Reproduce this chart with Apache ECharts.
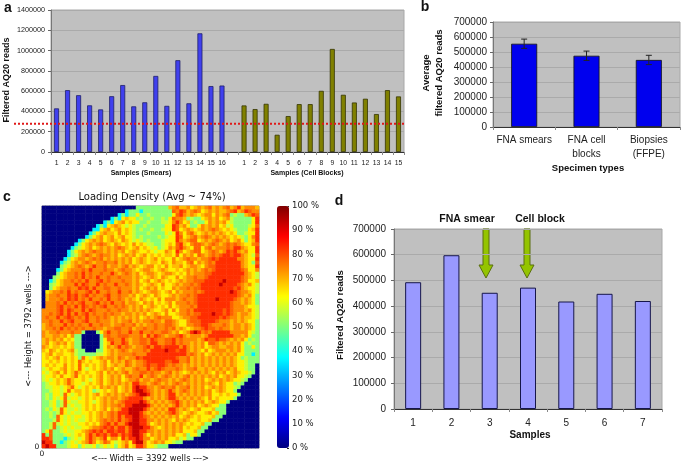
<!DOCTYPE html>
<html><head><meta charset="utf-8">
<style>html,body{margin:0;padding:0;background:#fff}#c{width:685px;height:465px}</style>
<script src="https://cdn.jsdelivr.net/npm/echarts@6/dist/echarts.min.js"></script>
</head><body><div id="c"></div>
<script>
const smearLabels=['1','2','3','4','5','6','7','8','9','10','11','12','13','14','15','16'];
const smearReads=[430000,610000,560000,460000,420000,550000,660000,450000,490000,750000,455000,905000,480000,1170000,650000,655000];
const blockLabels=['1','2','3','4','5','6','7','8','9','10','11','12','13','14','15'];
const blockReads=[459000,423000,475000,170000,354000,472000,472000,603000,1016000,564000,488000,525000,374000,610000,548000];
const threshold=279000;
const specimenTypes=['FNA smears','FNA cell\nblocks','Biopsies\n(FFPE)'];
const specimenMeans=[555000,475000,447000];
const specimenErrors=[31000,31000,31000];
const sampleLabels=['1','2','3','4','5','6','7'];
const sampleReads=[493000,598000,452000,472000,418000,448000,420000];
const densityKey={'.':0,c:36,g:51,l:57,y:64,a:69,o:74,r:78,R:83,D:93};
const densityRows=[
".......... .......... ......gggg gggggaoraa oyaoaoraoa oraoRaoooa",
".......... .......... ...cgggcgg ggggggroRr aoroyaoaoa aorRaoRroo",
".......... .......... .cgcggyggl ggggggyrRo aoayaooyoa orglggaoRr",
".......... .........c gcyayyglgg lgglgyrooa glggyaoaoy aolgggggyR",
".......... .......cgc yaoyayyggl gggllyoRoy aglggyoaoa oylgggggyR",
".......... .....cgcya oaylylgglg ggggyyRrao yggyoaoaoy alygggglyr",
".......... ....ccyaoy aoyaylglgg lgglyyRrya oayaoaoroa yaylgggyaR",
".......... ...cgyaoaa yoyaylgggl ggggylyRoy orayaoaoao ayaygglyyR",
".......... ..cgyaoyao yaoyylglgg gglglyyRry aoraoroaoa oayaylgyoR",
".......... cgyaoaoyao ayoaylylgl ggglyyyRoa orryaoaoro aoyaoygyaR",
".........c gyaoaoroay oayayoyayl lgglyayrRa yorroaoroa ororoayyor",
"........cg lyaoyaoaoa oroayaoyay lyglyoarRo ayrryoraoo oroRRoayyR",
".......cgy aoaorooaoa oaoyaoayya ylyyoayRoy aorryaoroa oRrRoaoyyR",
".......cgl aoroaorooa oyaoaoyaoy ayayaayryo aoyroaoror RRrRRoaylr",
"......cgya ooaororaoa oaoaoyaoay aoyayyoyao rooaoorRrR RRRRooayyR",
".....cglao aoroaooroo raoaoyaoay aayoayoaay oryoaoroRR RRRRRoaygr",
".....glyao roaoRoorao oaoraoayao oyayoyaaoy aooayorrRR RRRRRoayyR",
"....cgyaoo oroRoooroo aorooayaoo ayaoayyaya oaoaororRR RRRRRroyyo",
"....gyaoor oRoroorooR oaoroaoyao oayaooayay oaooorrRRR RRRRRRoayl",
"...glyaoor oRoroRooro oroooaoaya oayoayyoya ooroorRRRR RRRRRroayl",
"..cgyaooro roRoorRoro oorooaoyao yaoayayaoa oorrrRRRRR DRRRRroyya",
"..glyaoooR oRrooRoroo Rooroaoaya oayoyyaoao ororRRRRRD RRRRroaoyl",
"..gyaooroo RrRoRoorro oroooaoyao aoyayyoaoo rorrRRRRRR RRRrRoayyl",
".yaooroRor oorRoRooro oRooraoaya ooayaoyoao oororRRRRR RRDRrooayl",
".aoorooRrR orRoroorRo orooaoyaoa yoayyaoaoo rorRRRRRRR RRRRroaoyg",
".aoooroRrR oroRooroRo oroaoayoay ayoyoooaor oorRRRRRDR RRRroaoayg",
".oooroRoro rRoorRoroR ooraooayoa oyayaoyooo rorRRRRRRR RRrooaoayg",
".ooorRoroR oRrororRoo roroaoaoya oayayoyaoo oroRRRRRRR RRroooayyl",
"oooorRoRro oRoRroooro orooaoaoao ayyaoyoyoo roRRRRRRRR rRroooaoyl",
"oororRoRoR orRorooror ooaooaoaoy aoayoyyaoo rorrRRRDRR rRroaooayl",
"orooRorRro roRoororoa oaoaoaoyao aoroooyyao orrRRRRRRr Rrooaoaayl",
"oorooRorRo orRooroooa oaooraoaoo rooarroayy orrrRRRRro ooaoaoayyg",
"aoroooRoro rooRoorooa oorooraoao oroorroayy oorrRRrooo roaooaoayg",
"aooroRoror oroorooaoo rrooraooro oroororaoa yaoorRrror ooaooaoayg",
"oaooroooro og...gyoRo orooRooRoo roorroaoya oRDRoroRRR RRoooooylg",
"oaaooaoyog g.....goro orrroooraR oRroaoorRo aoooaoRRRR RRRooaoygg",
"aoaoaoyayg g.....gyrr ooRoaoorro RroorrRoro oooaoRrrRr roaoaoyglg",
"aoyaoaoyag g.....gyaR ooRraoorro RRoorrRoro oaoaoyrroa oaoaoyglgg",
"oayaayayag g.....gyoa oRoroaoorR oRRrRRRRoR oaoaoyaooa aooaoyggyg",
"ayoayayaol gg...ggyao aoroaoooro RRRRDRRrRR oaoayoyaoo oaoaoygggg",
"yaoyaayyal gggggllyao aooooroooR RRRRRRRRRR oroaoyaoao aoaoyyggcg",
"yayaoyayay grylyaoaoo aroaooRrRR RRRRRRRroo raoaoaoaoa oaoayglggg",
"yyayayayay rayayyaoyo aoaroaoorR RRRRrrRRoo raoaoaoaoa oaoayylggg",
"yayayyoyay ryayayaoya oaaroaoorR rrRRrorooa oaoaoaoaoa oaoayylgg.",
"lyayyaoyay rylyayaoao yaoaaorooR orRroooroa ooraaoaoao aoaoyylgg.",
"ylyaoyoyar ayayyaoyoa oaoraoorro rooaoraoay aoaoaoayoa oyaoayylg.",
"lyyayoyyar yayayaoyao aoyorooRao roaoroaoao raoaoaoaoy aoaoyylg..",
"lylyayaray yaylyaoyao aoyaooraoo aorooaoaor oaoaoyaoao aoayylg...",
"glyyayaray ylyayaoyao aoaoaRRooa oroaoaoroa oaoaoaoayo ayyglg....",
"gllyylyary lyayayoaoa oyaoaRDRRo oaorooraoo raoaoyaoao ayylg.....",
"gglyylyrya ayayglyaya oyaoaRDDRr oaoaoRoaor oaoaoaoyao ayyg......",
"glgyylryly ayayaoyaoa oaoaorRDDR oaoaoRRaoa oaoaoaoyya yayyg.....",
"glgylyrlyy lyayayaoao oaorRRRRoa oaoaoRRoao aoaoayoyay yyyg......",
"gglyglryll yyaylyaoao aorRRRRDRo aoaoaorRoa oaoaoyaoay yg........",
"gglyglrlyl lyayayaoao oroRRDDDDR oaoaoaoRoa oaoyaoayyg g.........",
"glgylrylly lyayayaoyo aoRRDDDDRo aoaoaRRoao ayaoyyyagg g.........",
"gglglrylyl lyyayaoaor oRRRDDDRoa oaoaorRoay aoayyaoyag g.........",
"gglgrylyly ylyayaoaor oRoRRDDRro aoaoaoaoya oayayyyagg ..........",
"ggglrylyly llyayaoror oRorRDDRRo oaoaoayoao ayyayyagg. ..........",
"gglrlylyll yyayayorRo RooRDDDRRo yaoaoaoaoa yayyagg... ..........",
"gglrglylyl lyyaoorRrR oRRoRDDDRR oayaoaoaoy ayyagg.... ..........",
"gyrgglylly yaorRrRoRR rRRoRDDRRo oaoaoaoaoy yyagg..... ..........",
"Rgrggglyly ayoRoRrRoR RoRrRDDRoy oaoaoaoyya gyyg...... ..........",
"RRrgggcgly lyoRoaoRyo oyRoRRDRoo yaoaoyyaly gg........ ..........",
"DRRggcglyl yaoRoyaroy lyaoyRDDoy aoaoyylgg. .......... ..........",
"RDRRggglyy gyllyglyly gyaryaRRoy ylggg..... .......... .........."
];
const colorbarRange=[0,100];

const SANS='"Liberation Sans",Arial,sans-serif', DJ='"DejaVu Sans",sans-serif', INK='#222';
const plain=v=>String(v);
const blank=new Array(blockReads.length+1).fill(null);
const slotLabels=smearLabels.concat([''],blockLabels);
const densityData=[];
densityRows.forEach((row,r)=>{[...row.replace(/ /g,'')].forEach((ch,c)=>densityData.push([c,r,densityKey[ch]]));});
const cols=[...Array(60).keys()], rows=[...Array(densityRows.length).keys()];

function valAxis(gridIndex,max,interval,size,margin){return {type:'value',gridIndex,min:0,max,interval,
  axisLine:{show:true,lineStyle:{color:'#777',width:1}},axisTick:{show:true,length:3,lineStyle:{color:'#666'}},
  axisLabel:{color:INK,fontSize:size,fontFamily:SANS,margin,formatter:plain},
  splitLine:{show:true,lineStyle:{color:'#aaaaaa',width:1}}};}
function catAxis(gridIndex,data,size,margin){return {type:'category',gridIndex,data,
  axisLine:{show:true,lineStyle:{color:'#333',width:1}},axisTick:{show:true,length:3,lineStyle:{color:'#888'}},
  axisLabel:{color:INK,fontSize:size,fontFamily:SANS,margin,interval:0,lineHeight:14}};}
function txt(x,y,text,size,opts){return {type:'text',x,y,silent:true,style:Object.assign({text,fill:'#111',
  font:'bold '+size+'px '+SANS,textAlign:'center',textVerticalAlign:'middle'},opts||{})};}
function rot(x,y,text,size,font){return {type:'text',x,y,rotation:Math.PI/2,silent:true,style:{text,fill:'#111',
  font:font||('bold '+size+'px '+SANS),textAlign:'center',textVerticalAlign:'middle'}};}
function arrow(cx){return {type:'polygon',silent:true,shape:{points:[[cx-3,229],[cx+3,229],[cx+3,265],[cx+7,265],[cx,278],[cx-7,265],[cx-3,265]]},
  style:{fill:'#94c400',stroke:'#5a6e10',lineWidth:1}};}
const plot={show:true,backgroundColor:'#c0c0c0',borderColor:'#a8a8a8',borderWidth:1};

const chart=echarts.init(document.getElementById('c'),null,{renderer:'canvas'});
chart.setOption({
  animation:false,backgroundColor:'#fff',
  grid:[
    Object.assign({left:51,top:10,width:353,height:142},plot),
    {left:14,top:10,width:390,height:142,show:false},
    Object.assign({left:493,top:22,width:187,height:105},plot),
    {left:42,top:206,width:217,height:242,show:true,borderColor:'#888',borderWidth:1},
    {left:277,top:206,width:12,height:242,show:false},
    Object.assign({left:394,top:229,width:268,height:180},plot)
  ],
  xAxis:[
    catAxis(0,slotLabels,6.8,4),
    {type:'value',gridIndex:1,min:0,max:1,show:false},
    catAxis(2,specimenTypes,10,6),
    {type:'category',gridIndex:3,data:cols,show:false},
    {type:'category',gridIndex:4,data:[''],show:false},
    catAxis(5,sampleLabels,10,7)
  ],
  yAxis:[
    valAxis(0,1400000,200000,7.2,6),
    {type:'value',gridIndex:1,min:0,max:1400000,show:false},
    valAxis(2,700000,100000,10,6),
    {type:'category',gridIndex:3,data:rows,inverse:true,show:false},
    {type:'value',gridIndex:4,min:colorbarRange[0],max:colorbarRange[1],interval:10,position:'right',
      axisLine:{show:false},splitLine:{show:false},axisTick:{show:true,length:2,inside:true,lineStyle:{color:'#222'}},
      axisLabel:{color:INK,fontSize:8.5,fontFamily:DJ,margin:3,formatter:'{value} %'}},
    valAxis(5,700000,100000,10,8)
  ],
  visualMap:{type:'continuous',seriesIndex:3,min:0,max:100,calculable:false,show:true,left:277,top:206,itemWidth:12,itemHeight:242,padding:0,text:null,
    inRange:{color:['#00007f','#0000ff','#007fff','#00ffff','#7fff7f','#ffff00','#ff7f00','#ff0000','#7f0000']}},
  series:[
    {type:'bar',xAxisIndex:0,yAxisIndex:0,stack:'a',barWidth:5,data:smearReads.concat(blank),
      itemStyle:{color:'#4040ee',borderColor:'#20206a',borderWidth:.8}},
    {type:'bar',xAxisIndex:0,yAxisIndex:0,stack:'a',barWidth:5,data:new Array(smearReads.length+1).fill(null).concat(blockReads),
      itemStyle:{color:'#808000',borderColor:'#333300',borderWidth:.8}},
    {type:'line',xAxisIndex:1,yAxisIndex:1,symbol:'none',silent:true,data:[[0,threshold],[1,threshold]],z:5,
      lineStyle:{color:'#e01818',width:2,type:[2,2]}},
    {type:'heatmap',xAxisIndex:3,yAxisIndex:3,data:densityData,progressive:0,itemStyle:{borderWidth:0}},
    {type:'bar',xAxisIndex:2,yAxisIndex:2,barWidth:26,data:specimenMeans,
      itemStyle:{color:'#0000ee',borderColor:'#111',borderWidth:.8}},
    {type:'custom',xAxisIndex:2,yAxisIndex:2,z:6,silent:true,
      data:specimenMeans.map((m,i)=>[i,m-specimenErrors[i],m+specimenErrors[i]]),
      renderItem(params,api){const lo=api.coord([api.value(0),api.value(1)]),hi=api.coord([api.value(0),api.value(2)]);
        const st={stroke:'#222',lineWidth:1,fill:'none'};
        return {type:'group',children:[
          {type:'line',shape:{x1:lo[0],y1:lo[1],x2:hi[0],y2:hi[1]},style:st},
          {type:'line',shape:{x1:lo[0]-3,y1:lo[1],x2:lo[0]+3,y2:lo[1]},style:st},
          {type:'line',shape:{x1:hi[0]-3,y1:hi[1],x2:hi[0]+3,y2:hi[1]},style:st}]};}},
    {type:'bar',xAxisIndex:5,yAxisIndex:5,barWidth:16,data:sampleReads,
      itemStyle:{color:'#9999ff',borderColor:'#16164a',borderWidth:1}}
  ],
  graphic:[
    txt(8,8,'a',14),txt(425,7,'b',14),txt(7,197,'c',14),txt(339,201,'d',14),
    rot(7,80,'Filtered AQ20 reads',9),
    txt(141,173,'Samples (Smears)',7),txt(307,173,'Samples (Cell Blocks)',7),
    rot(426,73,'Average',9.5),rot(439,73,'filtered AQ20 reads',9.5),
    txt(588,168,'Specimen types',9.5),
    txt(152,197,'Loading Density (Avg ~ 74%)',10,{font:'10px '+DJ}),
    txt(150,459,'<--- Width = 3392 wells --->',8.3,{font:'8.3px '+DJ}),
    rot(29,326,'<--- Height = 3792 wells --->',8.3,'8.3px '+DJ),
    txt(42,454,'0',7.5,{font:'7.5px '+DJ}),txt(37,447,'0',7.5,{font:'7.5px '+DJ}),
    rot(340,315,'Filtered AQ20 reads',9.5),
    txt(530,435,'Samples',10),
    txt(467,219,'FNA smear',10.5),txt(540,219,'Cell block',10.5),
    arrow(486),arrow(527)
  ]
});
</script></body></html>
